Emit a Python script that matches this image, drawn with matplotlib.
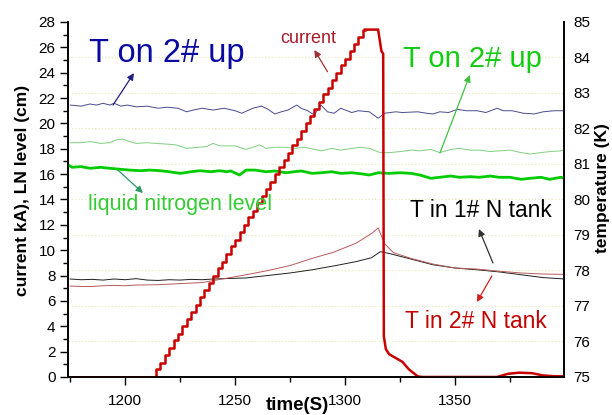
import matplotlib
matplotlib.use("Agg")
import matplotlib.pyplot as plt
from matplotlib.ticker import MultipleLocator

plt.rcParams["font.family"] = ["Liberation Sans", "DejaVu Sans"]

# current ramp (kA), sampled as steps
ramp_t = [1213, 1215, 1217, 1219, 1221, 1223, 1225, 1227, 1229, 1231, 1233, 1235, 1237,
          1239, 1241, 1243, 1245, 1247, 1249, 1251, 1253, 1255, 1257, 1259, 1261, 1263,
          1265, 1267, 1269, 1271, 1273, 1275, 1277, 1279, 1281, 1283, 1285, 1287, 1289,
          1291, 1293, 1295, 1297, 1299, 1301, 1303, 1305, 1307, 1309]
ramp_i = [0.0, 0.6, 1.1, 1.7, 2.3, 2.9, 3.4, 4.0, 4.6, 5.1, 5.7, 6.3, 6.9, 7.4, 8.0,
          8.6, 9.1, 9.7, 10.3, 10.8, 11.4, 12.0, 12.6, 13.1, 13.7, 14.3, 14.8, 15.4,
          16.0, 16.6, 17.1, 17.7, 18.3, 18.8, 19.4, 20.0, 20.6, 21.1, 21.7, 22.3, 22.8,
          23.4, 24.0, 24.6, 25.1, 25.7, 26.3, 26.8, 27.4]
# current before ramp and after the quench
pre_t = [1174, 1213]
pre_i = [0.0, 0.0]
tail_t = [1309, 1315, 1316.5, 1317.3, 1317.6, 1318.5, 1320, 1323, 1326, 1329, 1333,
          1335, 1369, 1374, 1379, 1385, 1390, 1395, 1400]
tail_i = [27.4, 27.4, 25.7, 25.5, 3.2, 2.2, 1.8, 1.5, 1.2, 0.6, 0.05,
          0.0, 0.0, 0.25, 0.34, 0.3, 0.12, 0.06, 0.05]

# liquid nitrogen level (cm)
ln_t = [1174, 1176, 1180, 1184, 1189, 1193, 1198, 1202, 1207, 1211, 1216, 1220, 1225,
        1230, 1234, 1239, 1243, 1246, 1248, 1252, 1255, 1259, 1264, 1268, 1273, 1277,
        1280, 1285, 1289, 1294, 1298, 1303, 1308, 1311, 1315, 1320, 1325, 1330, 1334,
        1339, 1343, 1348, 1352, 1357, 1361, 1366, 1370, 1375, 1380, 1384, 1389, 1393,
        1398, 1400]
ln_lvl = [16.72, 16.54, 16.59, 16.46, 16.54, 16.46, 16.38, 16.32, 16.27, 16.32, 16.27,
          16.19, 16.06, 16.19, 16.27, 16.19, 16.27, 16.19, 16.25, 15.93, 16.32, 16.32,
          16.19, 16.25, 16.11, 16.19, 16.25, 16.06, 16.11, 16.19, 16.06, 16.11, 16.01,
          15.93, 16.11, 16.06, 16.11, 16.06, 15.93, 15.67, 15.75, 15.85, 15.75, 15.80,
          15.75, 15.85, 15.75, 15.75, 15.59, 15.67, 15.75, 15.59, 15.75, 15.67]

# T on 2# up (K), blue trace
up_blue_t = [1175, 1180, 1184, 1187, 1190, 1193, 1195, 1198, 1201, 1205, 1210, 1215,
             1219, 1224, 1228, 1231, 1235, 1240, 1245, 1250, 1253, 1258, 1262, 1265,
             1268, 1271, 1274, 1278, 1280, 1283, 1286, 1289, 1292, 1295, 1298, 1303,
             1306, 1311, 1315, 1318, 1323, 1326, 1333, 1337, 1340, 1343, 1347, 1351,
             1355, 1360, 1364, 1369, 1372, 1376, 1381, 1386, 1390, 1395, 1400]
up_blue_k = [82.66, 82.63, 82.69, 82.66, 82.71, 82.66, 82.71, 82.63, 82.66, 82.61,
             82.63, 82.57, 82.60, 82.57, 82.47, 82.52, 82.57, 82.52, 82.57, 82.50,
             82.43, 82.57, 82.63, 82.54, 82.41, 82.47, 82.52, 82.66, 82.57, 82.50,
             82.38, 82.66, 82.47, 82.43, 82.57, 82.45, 82.50, 82.47, 82.29, 82.43,
             82.47, 82.45, 82.47, 82.43, 82.41, 82.47, 82.45, 82.54, 82.50, 82.50,
             82.45, 82.57, 82.50, 82.50, 82.43, 82.41, 82.47, 82.50, 82.50]

# T on 2# up (K), green trace
up_green_t = [1175, 1180, 1184, 1189, 1193, 1196, 1199, 1202, 1205, 1210, 1214, 1219,
              1223, 1228, 1233, 1237, 1240, 1243, 1248, 1250, 1255, 1259, 1261, 1264,
              1268, 1273, 1277, 1282, 1286, 1289, 1294, 1298, 1303, 1307, 1311, 1316,
              1320, 1325, 1330, 1334, 1339, 1343, 1348, 1352, 1357, 1361, 1366, 1370,
              1375, 1380, 1384, 1389, 1393, 1398, 1400]
up_green_k = [81.60, 81.60, 81.63, 81.58, 81.60, 81.68, 81.70, 81.63, 81.58, 81.60,
              81.58, 81.56, 81.54, 81.44, 81.47, 81.49, 81.58, 81.51, 81.51, 81.51,
              81.41, 81.49, 81.54, 81.44, 81.47, 81.47, 81.44, 81.47, 81.41, 81.37,
              81.44, 81.39, 81.44, 81.47, 81.44, 81.32, 81.32, 81.35, 81.39, 81.37,
              81.41, 81.32, 81.41, 81.44, 81.39, 81.39, 81.35, 81.37, 81.39, 81.32,
              81.28, 81.32, 81.35, 81.37, 81.41]

# T in 1# N tank (K)
tank1_t = [1175, 1180, 1185, 1190, 1195, 1200, 1205, 1210, 1215, 1220, 1225, 1230, 1235,
           1240, 1245, 1255, 1265, 1275, 1285, 1295, 1305, 1312, 1316, 1320, 1330, 1340,
           1350, 1360, 1370, 1380, 1390, 1400]
tank1_k = [77.76, 77.74, 77.75, 77.73, 77.76, 77.74, 77.77, 77.73, 77.72, 77.74, 77.73,
           77.75, 77.74, 77.76, 77.77, 77.79, 77.86, 77.93, 78.02, 78.13, 78.25, 78.36,
           78.53, 78.48, 78.32, 78.16, 78.07, 78.02, 77.96, 77.88, 77.80, 77.76]

# T in 2# N tank (K)
tank2_t = [1175, 1180, 1185, 1190, 1195, 1200, 1205, 1215, 1225, 1235, 1245, 1255, 1265,
           1275, 1285, 1295, 1305, 1312, 1315, 1318, 1322, 1330, 1340, 1350, 1360, 1370,
           1380, 1390, 1400]
tank2_k = [77.56, 77.55, 77.55, 77.57, 77.58, 77.57, 77.59, 77.60, 77.63, 77.66, 77.77,
           77.88, 78.00, 78.14, 78.34, 78.52, 78.77, 79.04, 79.20, 78.75, 78.50, 78.34,
           78.18, 78.07, 78.04, 77.98, 77.93, 77.90, 77.89]

fig = plt.figure(figsize=(6.12, 4.15), dpi=100)
ax = fig.add_axes([0.111, 0.0916, 0.8106, 0.8554])
ax2 = ax.twinx()

ax.set_xlim(1174, 1399.5)
ax.set_ylim(0, 28)
ax2.set_ylim(75, 85)


def to_k(vals):
    # left-axis units -> right-axis (K) units
    return [75 + v * 10 / 28 for v in vals]


# grid at temperature ticks
for k in range(76, 85):
    ax2.axhline(k, color="#ece6b4", lw=0.8, ls=(0, (1, 2)), zorder=0)

ax2.plot(up_blue_t, up_blue_k, color="#4a4a90", lw=0.7)
ax2.plot(up_green_t, up_green_k, color="#7fd07f", lw=0.7)
ax2.plot(tank1_t, tank1_k, color="#202020", lw=0.7)
ax2.plot(tank2_t, tank2_k, color="#b85a5a", lw=0.7)
ax2.plot(ln_t, to_k(ln_lvl), color="#00cc00", lw=2.0)

ax2.plot(pre_t, to_k(pre_i), color="#c80000", lw=1.8)
ax2.step(ramp_t, to_k(ramp_i), where="mid", color="#c80000", lw=1.8)
ax2.plot(tail_t, to_k(tail_i), color="#c80000", lw=1.8)

# ticks
ax.xaxis.set_major_locator(MultipleLocator(50))
ax.xaxis.set_minor_locator(MultipleLocator(25))
ax.yaxis.set_major_locator(MultipleLocator(2))
ax.yaxis.set_minor_locator(MultipleLocator(1))
ax2.yaxis.set_major_locator(MultipleLocator(1))
ax.tick_params(axis="both", which="major", direction="out", length=6, width=1,
               labelsize=11, pad=3)
ax.tick_params(axis="x", which="major", pad=6)
ax.tick_params(axis="both", which="minor", direction="out", length=3.5, width=1)
ax2.tick_params(axis="y", which="both", length=0, labelsize=11, pad=7)

for a in (ax, ax2):
    a.spines["top"].set_visible(False)
    for s in ("left", "right", "bottom"):
        a.spines[s].set_linewidth(1.2)

fig.text(0.036, 0.54, "current kA), LN level (cm)", rotation=90, ha="center",
         va="center", fontsize=12.5, fontweight="bold")
fig.text(0.985, 0.548, "temperature (K)", rotation=90, ha="center", va="center",
         fontsize=12.5, fontweight="bold")
fig.text(0.486, 0.023, "time(S)", ha="center", va="center", fontsize=13.5,
         fontweight="bold")

# annotations (positions in left-axis data units)
tr = ax.transData
ax2.text(1219, 24.84, "T on 2# up", color="#0a0aa0", fontsize=23.5, ha="center",
         va="baseline", transform=tr)
ax2.text(1283.3, 26.32, "current", color="#a81c28", fontsize=13, ha="center",
         va="baseline", transform=tr)
ax2.text(1358, 24.47, "T on 2# up", color="#11cc11", fontsize=21, ha="center",
         va="baseline", transform=tr)
ax2.text(1225, 13.17, "liquid nitrogen level", color="#33cc33", fontsize=15.5,
         ha="center", va="baseline", transform=tr)
ax2.text(1361.7, 12.64, "T in 1# N tank", color="black", fontsize=16.4, ha="center",
         va="baseline", transform=tr)
ax2.text(1359.5, 3.84, "T in 2# N tank", color="#c40000", fontsize=16.4, ha="center",
         va="baseline", transform=tr)

arrows = [
    ((1194.5, 21.45), (1204.0, 23.97), "#20207a"),
    ((1292.0, 24.08), (1286.0, 25.79), "#a03030"),
    ((1343.1, 17.67), (1356.7, 23.82), "#40c040"),
    ((1196.7, 16.32), (1208.1, 14.51), "#2a9a60"),
    ((1367.2, 8.99), (1360.8, 11.67), "#303030"),
    ((1366.7, 7.97), (1359.9, 5.91), "#d02020"),
]
for tail, head, col in arrows:
    ax2.annotate("", xy=head, xytext=tail, xycoords=tr, textcoords=tr,
                 arrowprops=dict(arrowstyle="-|>", color=col, lw=0.9,
                                 mutation_scale=10, shrinkA=0, shrinkB=0))

fig.savefig("out.png", dpi=100)
